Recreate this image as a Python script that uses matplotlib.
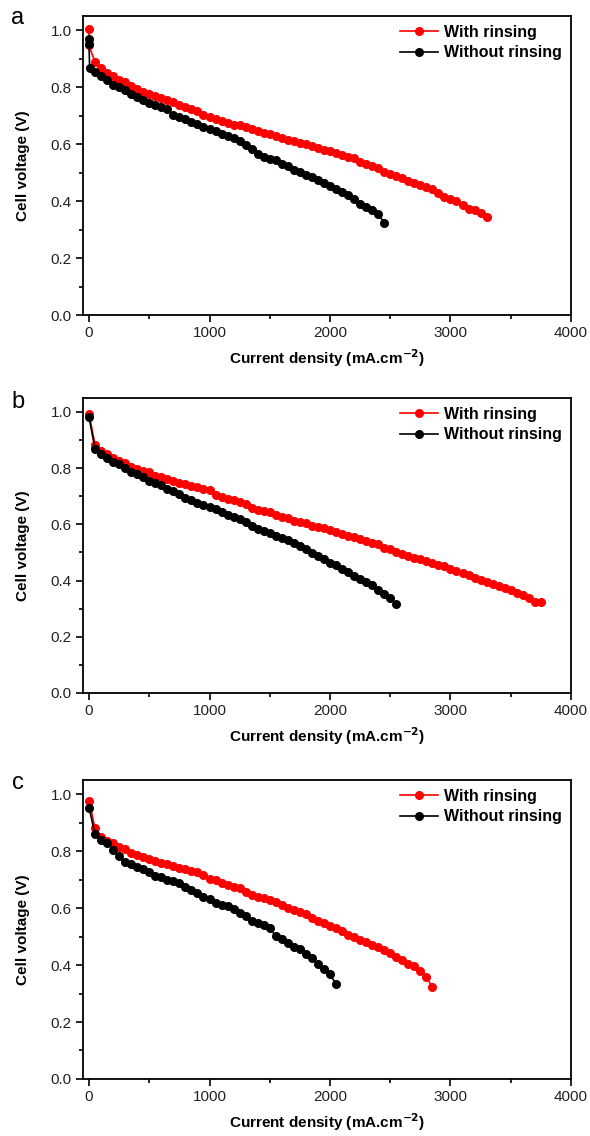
import matplotlib
matplotlib.use("Agg")
import matplotlib.pyplot as plt
from matplotlib.ticker import MultipleLocator, FormatStrFormatter

plt.rcParams["font.family"] = ["Liberation Sans", "DejaVu Sans"]

# panel a
a_rinse_x = [0, 0, 50, 100, 150, 200, 250, 300, 350, 400, 450, 500, 550, 600, 650, 700, 750, 800,
             850, 900, 950, 1000, 1050, 1100, 1150, 1200, 1250, 1300, 1350, 1400, 1450, 1500, 1550,
             1600, 1650, 1700, 1750, 1800, 1850, 1900, 1950, 2000, 2050, 2100, 2150, 2200, 2250,
             2300, 2350, 2400, 2450, 2500, 2550, 2600, 2650, 2700, 2750, 2800, 2850, 2900, 2950,
             3000, 3050, 3100, 3150, 3200, 3250, 3300]
a_rinse_v = [1.006, 0.947, 0.887, 0.866, 0.851, 0.839, 0.827, 0.818, 0.805, 0.795, 0.784, 0.775,
             0.768, 0.761, 0.754, 0.747, 0.738, 0.731, 0.724, 0.717, 0.702, 0.696, 0.689, 0.683,
             0.676, 0.669, 0.666, 0.661, 0.653, 0.646, 0.640, 0.635, 0.628, 0.622, 0.616, 0.611,
             0.605, 0.600, 0.593, 0.587, 0.581, 0.577, 0.570, 0.561, 0.556, 0.550, 0.538, 0.530,
             0.523, 0.518, 0.503, 0.495, 0.488, 0.480, 0.471, 0.464, 0.457, 0.450, 0.441, 0.429,
             0.415, 0.407, 0.400, 0.386, 0.374, 0.368, 0.357, 0.345]
a_norinse_x = [0, 0, 5, 50, 100, 150, 200, 250, 300, 350, 400, 450, 500, 550, 600, 650, 700, 750,
               800, 850, 900, 950, 1000, 1050, 1100, 1150, 1200, 1250, 1300, 1350, 1400, 1450,
               1500, 1550, 1600, 1650, 1700, 1750, 1800, 1850, 1900, 1950, 2000, 2050, 2100, 2150,
               2200, 2250, 2300, 2350, 2400, 2450]
a_norinse_v = [0.970, 0.950, 0.868, 0.854, 0.839, 0.825, 0.807, 0.801, 0.789, 0.775, 0.764, 0.754,
               0.745, 0.737, 0.731, 0.722, 0.702, 0.694, 0.687, 0.678, 0.670, 0.661, 0.654, 0.645,
               0.636, 0.628, 0.620, 0.612, 0.598, 0.583, 0.567, 0.555, 0.548, 0.543, 0.532, 0.523,
               0.511, 0.503, 0.491, 0.483, 0.474, 0.462, 0.453, 0.443, 0.433, 0.421, 0.409, 0.389,
               0.380, 0.368, 0.354, 0.324]

# panel b
b_rinse_x = [0, 50, 100, 150, 200, 250, 300, 350, 400, 450, 500, 550, 600, 650, 700, 750, 800,
             850, 900, 950, 1000, 1050, 1100, 1150, 1200, 1250, 1300, 1350, 1400, 1450, 1500, 1550,
             1600, 1650, 1700, 1750, 1800, 1850, 1900, 1950, 2000, 2050, 2100, 2150, 2200, 2250,
             2300, 2350, 2400, 2450, 2500, 2550, 2600, 2650, 2700, 2750, 2800, 2850, 2900, 2950,
             3000, 3050, 3100, 3150, 3200, 3250, 3300, 3350, 3400, 3450, 3500, 3550, 3600, 3650,
             3700, 3750]
b_rinse_v = [0.993, 0.883, 0.862, 0.850, 0.836, 0.826, 0.820, 0.805, 0.796, 0.790, 0.785, 0.773,
             0.767, 0.761, 0.755, 0.749, 0.743, 0.737, 0.733, 0.727, 0.722, 0.704, 0.698, 0.692,
             0.687, 0.680, 0.671, 0.660, 0.651, 0.648, 0.644, 0.632, 0.626, 0.624, 0.612, 0.608,
             0.606, 0.596, 0.592, 0.588, 0.580, 0.573, 0.564, 0.558, 0.555, 0.549, 0.540, 0.535,
             0.529, 0.517, 0.511, 0.501, 0.496, 0.489, 0.481, 0.477, 0.469, 0.463, 0.457, 0.451,
             0.442, 0.435, 0.428, 0.420, 0.410, 0.402, 0.395, 0.388, 0.380, 0.372, 0.365, 0.357,
             0.348, 0.338, 0.325, 0.325]
b_norinse_x = [0, 50, 100, 150, 200, 250, 300, 350, 400, 450, 500, 550, 600, 650, 700, 750, 800,
               850, 900, 950, 1000, 1050, 1100, 1150, 1200, 1250, 1300, 1350, 1400, 1450, 1500,
               1550, 1600, 1650, 1700, 1750, 1800, 1850, 1900, 1950, 2000, 2050, 2100, 2150, 2200,
               2250, 2300, 2350, 2400, 2450, 2500, 2550]
b_norinse_v = [0.981, 0.868, 0.852, 0.838, 0.823, 0.814, 0.802, 0.787, 0.779, 0.767, 0.755, 0.749,
               0.739, 0.727, 0.719, 0.707, 0.695, 0.686, 0.675, 0.668, 0.663, 0.654, 0.643, 0.632,
               0.625, 0.618, 0.607, 0.595, 0.585, 0.578, 0.568, 0.559, 0.551, 0.543, 0.533, 0.524,
               0.512, 0.498, 0.489, 0.476, 0.464, 0.456, 0.442, 0.432, 0.418, 0.406, 0.395, 0.383,
               0.368, 0.352, 0.338, 0.318]

# panel c
c_rinse_x = [0, 50, 100, 150, 200, 250, 300, 350, 400, 450, 500, 550, 600, 650, 700, 750, 800,
             850, 900, 950, 1000, 1050, 1100, 1150, 1200, 1250, 1300, 1350, 1400, 1450, 1500, 1550,
             1600, 1650, 1700, 1750, 1800, 1850, 1900, 1950, 2000, 2050, 2100, 2150, 2200, 2250,
             2300, 2350, 2400, 2450, 2500, 2550, 2600, 2650, 2700, 2750, 2800, 2850]
c_rinse_v = [0.977, 0.880, 0.850, 0.835, 0.827, 0.815, 0.809, 0.795, 0.788, 0.780, 0.772, 0.766,
             0.760, 0.754, 0.749, 0.741, 0.736, 0.730, 0.727, 0.715, 0.703, 0.697, 0.688, 0.680,
             0.674, 0.669, 0.657, 0.646, 0.640, 0.636, 0.628, 0.622, 0.611, 0.602, 0.593, 0.585,
             0.579, 0.564, 0.555, 0.548, 0.537, 0.529, 0.520, 0.505, 0.497, 0.489, 0.482, 0.470,
             0.463, 0.453, 0.441, 0.430, 0.418, 0.405, 0.396, 0.380, 0.359, 0.322]
c_norinse_x = [0, 50, 100, 150, 200, 250, 300, 350, 400, 450, 500, 550, 600, 650, 700, 750, 800,
               850, 900, 950, 1000, 1050, 1100, 1150, 1200, 1250, 1300, 1350, 1400, 1450, 1500,
               1550, 1600, 1650, 1700, 1750, 1800, 1850, 1900, 1950, 2000, 2050]
c_norinse_v = [0.953, 0.859, 0.839, 0.829, 0.804, 0.782, 0.762, 0.754, 0.745, 0.736, 0.727, 0.712,
               0.708, 0.698, 0.696, 0.687, 0.675, 0.663, 0.652, 0.640, 0.633, 0.619, 0.611, 0.606,
               0.598, 0.583, 0.571, 0.556, 0.548, 0.539, 0.529, 0.502, 0.490, 0.476, 0.465, 0.457,
               0.440, 0.424, 0.405, 0.387, 0.369, 0.332]

panel_letters = ["a", "b", "c"]
# left, bottom, width, height in figure fractions
panel_boxes = [
    [0.1407, 0.7227, 0.827, 0.2632],
    [0.1407, 0.3900, 0.827, 0.2597],
    [0.1407, 0.0502, 0.827, 0.2632],
]
letter_y = [0.984, 0.646, 0.311]

panels = [
    (a_rinse_x, a_rinse_v, a_norinse_x, a_norinse_v),
    (b_rinse_x, b_rinse_v, b_norinse_x, b_norinse_v),
    (c_rinse_x, c_rinse_v, c_norinse_x, c_norinse_v),
]

fig = plt.figure(figsize=(5.9, 11.36), dpi=100)

for box, letter, ly, (rx, rv, nx, nv) in zip(panel_boxes, panel_letters, letter_y, panels):
    ax = fig.add_axes(box)
    ax.plot(rx, rv, color="#ff0000", marker="o", markersize=5.5, linewidth=1.2, label="With rinsing")
    ax.plot(nx, nv, color="black", marker="o", markersize=5.5, linewidth=1.2, label="Without rinsing")

    ax.set_xlim(-50, 4000)
    ax.set_ylim(0, 1.05)
    ax.xaxis.set_major_locator(MultipleLocator(1000))
    ax.xaxis.set_minor_locator(MultipleLocator(500))
    ax.yaxis.set_major_locator(MultipleLocator(0.2))
    ax.yaxis.set_minor_locator(MultipleLocator(0.1))
    ax.yaxis.set_major_formatter(FormatStrFormatter("%.1f"))
    ax.tick_params(which="both", direction="out", top=False, right=False, labelsize=11, width=1.2,
                   labelcolor="#222222")
    ax.tick_params(which="major", length=5, pad=3)
    ax.tick_params(which="minor", length=3)
    for sp in ax.spines.values():
        sp.set_linewidth(1.3)

    ax.set_xlabel("Current density (mA.cm$^{\\mathbf{-2}}$)", fontsize=11, fontweight="bold", labelpad=5)
    ax.set_ylabel("Cell voltage (V)", fontsize=11, fontweight="bold", labelpad=15)
    ax.legend(loc="upper right", frameon=False, prop={"weight": "bold", "size": 11.5},
              handlelength=2.4, handletextpad=0.4, labelspacing=0.35, borderaxespad=0.15)

    fig.text(0.03, ly, letter, fontsize=17, ha="center", va="center")

fig.savefig("out.png", dpi=100)
